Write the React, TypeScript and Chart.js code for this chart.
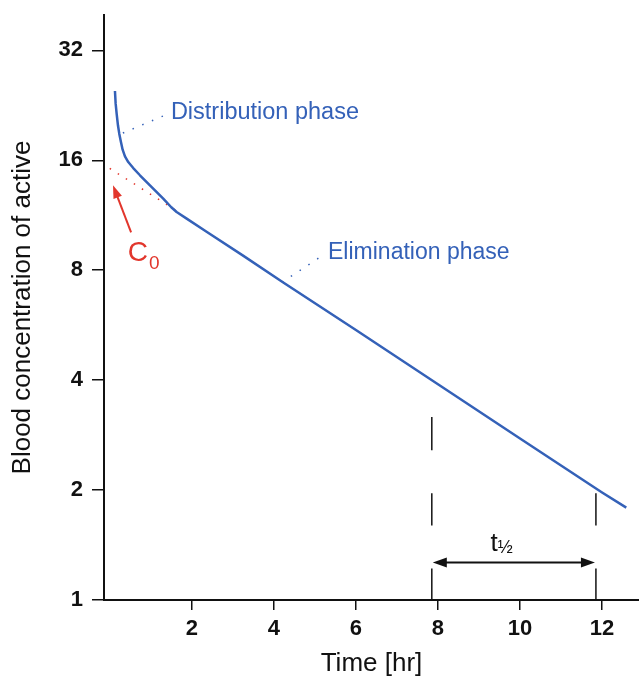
import React, { useEffect, useRef } from "react";
import { Chart, registerables } from "chart.js";

Chart.register(...registerables);

// ---- data ----
const timeHr = [0.127, 0.144, 0.168, 0.2, 0.232, 0.273, 0.314, 0.371, 0.451, 0.573, 0.736, 0.98, 1.304, 1.5, 1.63, 1.875, 2.36, 3.25, 4.22, 6, 8, 10, 12, 12.59];
const concentration = [24.77, 22.87, 21.48, 19.95, 18.93, 17.95, 17.11, 16.41, 15.83, 15.24, 14.56, 13.67, 12.57, 11.9, 11.55, 11.08, 10.2, 8.77, 7.42, 5.49, 3.9, 2.77, 1.97, 1.79];

// back-extrapolated elimination line (C0)
const extrapTime = [0, 1.6];
const extrapConc = [15.2, 11.7];

// leader lines for the phase labels
const distLeaderTime = [0.32, 1.32];
const distLeaderConc = [19.0, 21.2];
const elimLeaderTime = [4.2, 5.12];
const elimLeaderConc = [7.42, 8.68];

// axis ticks
const xTicks = [2, 4, 6, 8, 10, 12];
const yTicks = [1, 2, 4, 8, 16, 32];

// annotation anchors (data coordinates)
const distLabel = { t: 1.49, c: 20.7, text: "Distribution phase" };
const elimLabel = { t: 5.32, c: 8.57, text: "Elimination phase" };
const c0Label = { t: 0.44, c: 8.47 };
const c0Arrow = { fromT: 0.52, fromC: 10.16, toT: 0.08, toC: 13.67 };
const halfLifeStart = 7.85;
const halfLifeEnd = 11.85;
const halfLifeArrowC = 1.266;
const halfLifeLabel = { t: 9.28, c: 1.365 };
const leftMarkerSegments = [[3.17, 2.57], [1.96, 1.6], [1.22, 1]];
const rightMarkerSegments = [[1.96, 1.6], [1.22, 1]];

const BLUE = "#3461b8";
const RED = "#e2362c";
const FONT = '"Liberation Sans", Arial, Helvetica, sans-serif';

function pts(ts: number[], cs: number[]) {
  return ts.map((t, i) => ({ x: t, y: cs[i] }));
}

function arrowHead(ctx: CanvasRenderingContext2D, fx: number, fy: number, tx: number, ty: number, len: number, hw: number, color: string) {
  const a = Math.atan2(ty - fy, tx - fx);
  ctx.save();
  ctx.fillStyle = color;
  ctx.beginPath();
  ctx.moveTo(tx, ty);
  ctx.lineTo(tx - len * Math.cos(a) + hw * Math.sin(a), ty - len * Math.sin(a) - hw * Math.cos(a));
  ctx.lineTo(tx - len * Math.cos(a) - hw * Math.sin(a), ty - len * Math.sin(a) + hw * Math.cos(a));
  ctx.closePath();
  ctx.fill();
  ctx.restore();
}

const annotationPlugin = {
  id: "pkAnnotations",
  afterDatasetsDraw(chart: any) {
    const { ctx, scales } = chart;
    const px = (t: number) => scales.x.getPixelForValue(t);
    const py = (c: number) => scales.y.getPixelForValue(c);
    ctx.save();
    ctx.textBaseline = "alphabetic";
    ctx.textAlign = "left";

    // phase labels
    ctx.fillStyle = BLUE;
    ctx.font = `23.5px ${FONT}`;
    ctx.fillText(distLabel.text, px(distLabel.t), py(distLabel.c));
    ctx.font = `23px ${FONT}`;
    ctx.fillText(elimLabel.text, px(elimLabel.t), py(elimLabel.c));

    // C0 label
    ctx.fillStyle = RED;
    ctx.font = `28px ${FONT}`;
    const cx = px(c0Label.t);
    const cy = py(c0Label.c);
    ctx.fillText("C", cx, cy);
    const cw = ctx.measureText("C").width;
    ctx.font = `19px ${FONT}`;
    ctx.fillText("0", cx + cw + 1, cy + 8);

    // C0 arrow
    const ax0 = px(c0Arrow.fromT), ay0 = py(c0Arrow.fromC);
    const ax1 = px(c0Arrow.toT), ay1 = py(c0Arrow.toC);
    const ang = Math.atan2(ay1 - ay0, ax1 - ax0);
    ctx.strokeStyle = RED;
    ctx.lineWidth = 2;
    ctx.beginPath();
    ctx.moveTo(ax0, ay0);
    ctx.lineTo(ax1 - 10 * Math.cos(ang), ay1 - 10 * Math.sin(ang));
    ctx.stroke();
    arrowHead(ctx, ax0, ay0, ax1, ay1, 13, 4.5, RED);

    // half-life markers
    ctx.strokeStyle = "#111";
    ctx.lineWidth = 1.5;
    const lx = px(halfLifeStart), rx = px(halfLifeEnd);
    for (const [a, b] of leftMarkerSegments) {
      ctx.beginPath();
      ctx.moveTo(lx, py(a));
      ctx.lineTo(lx, py(b));
      ctx.stroke();
    }
    for (const [a, b] of rightMarkerSegments) {
      ctx.beginPath();
      ctx.moveTo(rx, py(a));
      ctx.lineTo(rx, py(b));
      ctx.stroke();
    }
    const hy = py(halfLifeArrowC);
    ctx.lineWidth = 2;
    ctx.beginPath();
    ctx.moveTo(lx + 8, hy);
    ctx.lineTo(rx - 8, hy);
    ctx.stroke();
    arrowHead(ctx, rx, hy, lx + 1, hy, 14, 5, "#111");
    arrowHead(ctx, lx, hy, rx - 1, hy, 14, 5, "#111");

    // t1/2 label
    ctx.fillStyle = "#111";
    ctx.font = `26px ${FONT}`;
    const tx = px(halfLifeLabel.t), ty = py(halfLifeLabel.c);
    ctx.fillText("t", tx, ty);
    const tw = ctx.measureText("t").width;
    ctx.font = `18px ${FONT}`;
    ctx.fillText("½", tx + tw, ty + 2);

    ctx.restore();
  },
};

export default function App() {
  const ref = useRef<HTMLCanvasElement | null>(null);
  useEffect(() => {
    if (!ref.current) return;
    const chart = new Chart(ref.current, {
      type: "line",
      data: {
        datasets: [
          {
            data: pts(timeHr, concentration),
            borderColor: BLUE,
            borderWidth: 2.5,
            pointRadius: 0,
            tension: 0,
            borderJoinStyle: "round",
            fill: false,
          },
          {
            data: pts(extrapTime, extrapConc),
            borderColor: RED,
            borderWidth: 1.5,
            borderDash: [1.5, 8],
            pointRadius: 0,
            fill: false,
          },
          {
            data: pts(distLeaderTime, distLeaderConc),
            borderColor: BLUE,
            borderWidth: 1.5,
            borderDash: [1.5, 9],
            pointRadius: 0,
            fill: false,
          },
          {
            data: pts(elimLeaderTime, elimLeaderConc),
            borderColor: BLUE,
            borderWidth: 1.5,
            borderDash: [1.5, 9],
            pointRadius: 0,
            fill: false,
          },
        ],
      },
      options: {
        responsive: false,
        animation: false,
        layout: { padding: { top: 15, left: 0, right: 0, bottom: 0 } },
        plugins: { legend: { display: false }, tooltip: { enabled: false } },
        scales: {
          x: {
            type: "linear",
            min: -0.14,
            max: 12.9,
            afterBuildTicks: (s: any) => {
              s.ticks = xTicks.map((v) => ({ value: v }));
            },
            afterFit: (s: any) => {
              s.height = 79;
              s.paddingLeft = 0;
              s.paddingRight = 0;
            },
            grid: { display: true, drawOnChartArea: false, drawTicks: true, tickLength: 10, color: "#111", lineWidth: 1.5 },
            border: { display: true, color: "#111", width: 2 },
            ticks: {
              autoSkip: false,
              maxRotation: 0,
              padding: 6,
              color: "#111",
              font: { family: FONT, size: 22, weight: "bold" },
              callback: (v: any) => String(v),
            },
            title: {
              display: true,
              text: "Time [hr]",
              color: "#111",
              font: { family: FONT, size: 26 },
              padding: { top: 0, bottom: 0 },
            },
          },
          y: {
            type: "logarithmic",
            min: 1,
            max: 40,
            afterBuildTicks: (s: any) => {
              s.ticks = yTicks.map((v) => ({ value: v }));
            },
            afterFit: (s: any) => {
              s.width = 104;
              s.paddingTop = 0;
              s.paddingBottom = 0;
            },
            grid: { display: true, drawOnChartArea: false, drawTicks: true, tickLength: 12, color: "#111", lineWidth: 1.5 },
            border: { display: true, color: "#111", width: 2 },
            ticks: {
              autoSkip: false,
              padding: 9,
              color: "#111",
              font: { family: FONT, size: 22, weight: "bold" },
              callback: (v: any) => String(v),
            },
            title: {
              display: true,
              text: "Blood concentration of active",
              color: "#111",
              font: { family: FONT, size: 26 },
              padding: { top: 7, bottom: 0 },
            },
          },
        },
      },
      plugins: [annotationPlugin],
    } as any);
    return () => chart.destroy();
  }, []);

  return (
    <div style={{ position: "fixed", left: 0, top: 0, width: 639, height: 679, background: "#fff" }}>
      <canvas ref={ref} width={639} height={679} style={{ display: "block" }} />
    </div>
  );
}
